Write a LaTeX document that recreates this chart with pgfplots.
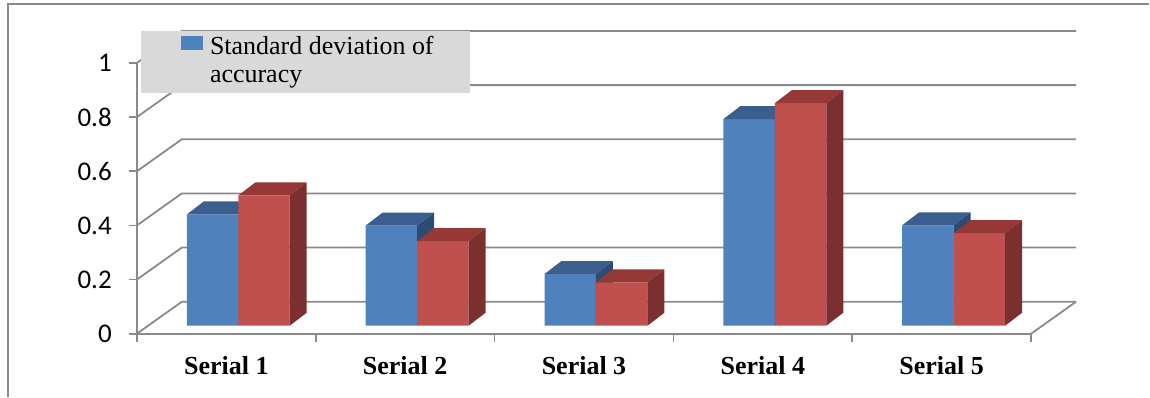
\documentclass[border=0pt]{standalone}
\usepackage{pgfplots}
\usepackage{pgfplotstable}
\pgfplotsset{compat=1.18}
\usepackage{fontspec}
\setmainfont{Liberation Serif}
\newfontfamily\calibri{Carlito}

\definecolor{barBlue}{HTML}{4F81BD}
\definecolor{barBlueTop}{HTML}{3A5F8E}
\definecolor{barBlueSide}{HTML}{2E4B72}
\definecolor{barRed}{HTML}{C0504D}
\definecolor{barRedTop}{HTML}{953836}
\definecolor{barRedSide}{HTML}{7B2F2E}
\definecolor{frameGray}{HTML}{8A8A8A}
\definecolor{legendGray}{HTML}{D9D9D9}

% bar geometry (pt): front width, depth offset of the top/side faces, y unit
\def\barw{51.5}
\def\bardx{17}
\def\bardy{13}
\def\yunit{271}

% top and side faces of a 3-D bar, drawn at the front top-right corner
\newcommand\declarebarcap[3]{%
  \pgfdeclareplotmark{#1}{%
    \pgfpathmoveto{\pgfqpoint{0pt}{0pt}}%
    \pgfpathlineto{\pgfpoint{\bardx pt}{\bardy pt}}%
    \pgfpathlineto{\pgfpoint{\bardx pt-\barw pt}{\bardy pt}}%
    \pgfpathlineto{\pgfpoint{-\barw pt}{0pt}}%
    \pgfpathclose
    \pgfsetfillcolor{#2}%
    \pgfusepath{fill}%
    \pgfpathmoveto{\pgfqpoint{0pt}{0pt}}%
    \pgfpathlineto{\pgfpoint{\bardx pt}{\bardy pt}}%
    \pgfpathlineto{\pgfpoint{\bardx pt}{\bardy pt-\barval*\yunit pt}}%
    \pgfpathlineto{\pgfpoint{0pt}{-\barval*\yunit pt}}%
    \pgfpathclose
    \pgfsetfillcolor{#3}%
    \pgfusepath{fill}%
  }%
}
\declarebarcap{capblue}{barBlueTop}{barBlueSide}
\declarebarcap{capred}{barRedTop}{barRedSide}

\pgfplotstableread{
x   blue  red
0.5 0.411 0.481
1.5 0.370 0.312
2.5 0.191 0.160
3.5 0.763 0.822
4.5 0.371 0.342
}\accdata

\begin{document}
\begin{tikzpicture}
\begin{axis}[
  scale only axis,
  width=895pt, height=271pt,
  xmin=0, xmax=5, ymin=0, ymax=1,
  clip=false,
  clip mode=individual,
  axis lines=left,
  axis line style={-, frameGray, line width=1.8pt},
  xtick={0,1,2,3,4,5},
  x tick label as interval,
  xticklabels={Serial 1,Serial 2,Serial 3,Serial 4,Serial 5},
  ytick={0,0.2,0.4,0.6,0.8,1},
  yticklabels={0,0.2,0.4,0.6,0.8,1},
  tick align=outside,
  major tick length=8pt,
  tick style={frameGray, line width=1.8pt},
  xticklabel style={font=\fontsize{26}{28}\selectfont\bfseries, inner sep=0pt, anchor=north, yshift=-15pt},
  yticklabel style={font=\calibri\fontsize{27}{29}\selectfont, inner sep=0pt, anchor=east, xshift=-17pt},
  legend style={at={(axis cs:0.0223,1.118)}, anchor=north west, draw=none,
    fill=legendGray, inner xsep=36pt, inner ysep=4pt,
    font=\fontsize{26}{28}\selectfont,
    nodes={inner sep=0pt, text height=19pt, text depth=7pt},
    row sep=2pt,
    cells={anchor=base west},
    /tikz/every odd column/.append style={column sep=7pt}},
]
% side wall, back wall and floor grid
\pgfplotsinvokeforeach{0,0.2,0.4,0.6,0.8,1}{
  \draw[frameGray, line width=1.8pt] (axis cs:0,#1) -- ++(45pt,32pt)
    -- ([shift={(45pt,32pt)}]axis cs:5,#1);
}
\draw[frameGray, line width=1.8pt] (axis cs:5,0) -- ++(45pt,32pt);

% front faces and top/side faces, set back into the depth of the chart
\addplot[ybar, bar width=51.5pt, bar shift=-25.75pt, fill=barBlue, draw=none,
  xshift=12pt, yshift=8pt,
  legend image code/.code={%
    \path (-8pt,-4pt) rectangle (14pt,10pt);
    \fill[barBlue] (0pt,-4pt) rectangle (14pt,10pt);}]
  table[x=x, y=blue]{\accdata};
\addlegendentry{Standard deviation of}
\addlegendimage{empty legend}
\addlegendentry{accuracy}
\addplot[forget plot, only marks, mark=capblue, xshift=12pt, yshift=8pt,
  visualization depends on={rawy \as \barval}] table[x=x, y=blue]{\accdata};
\addplot[forget plot, ybar, bar width=51.5pt, bar shift=25.75pt, fill=barRed, draw=none,
  xshift=12pt, yshift=8pt] table[x=x, y=red]{\accdata};
\addplot[forget plot, only marks, mark=capred, xshift=63.5pt, yshift=8pt,
  visualization depends on={rawy \as \barval}] table[x=x, y=red]{\accdata};
\end{axis}
% chart area border
\draw[frameGray, line width=2pt] ([shift={(-129pt,-63pt)}]current axis.south west)
  -- ([shift={(-129pt,330pt)}]current axis.south west)
  -- ([shift={(1013pt,330pt)}]current axis.south west);
\path ([shift={(-137pt,-63pt)}]current axis.south west)
  rectangle ([shift={(1013pt,334pt)}]current axis.south west);
\end{tikzpicture}
\end{document}
